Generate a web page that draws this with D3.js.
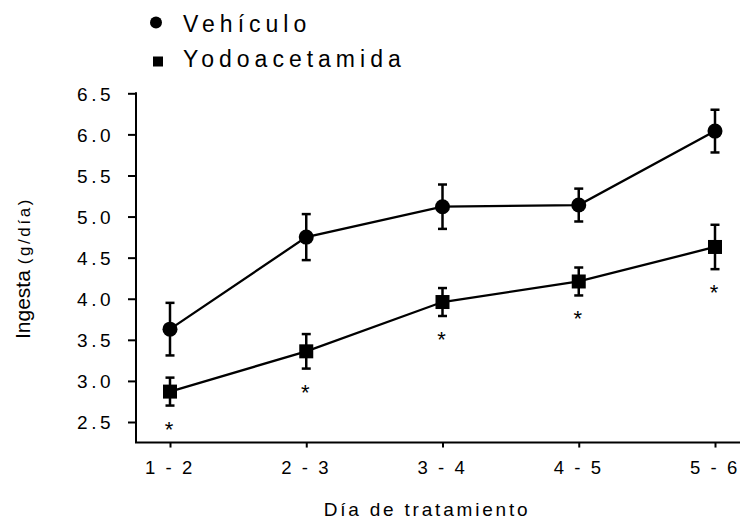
<!DOCTYPE html>
<html>

<head>
    <meta charset="utf-8">
    <style>
        body {
            margin: 0;
            background: #fff;
        }

        text {
            font-family: "Liberation Sans", Arial, sans-serif;
            fill: #000;
        }
    </style>
    <script src="https://d3js.org/d3.v7.min.js"></script>
</head>

<body>
    <svg width="740" height="519"></svg>
    <script>
        // datos
        var categories = ["1 - 2", "2 - 3", "3 - 4", "4 - 5", "5 - 6"];
        var vehiculo = [3.63, 4.75, 5.12, 5.14, 6.04];
        var vehiculoSE = [0.32, 0.28, 0.27, 0.20, 0.26];
        var yodo = [2.87, 3.36, 3.96, 4.21, 4.63];
        var yodoSE = [0.17, 0.21, 0.17, 0.17, 0.27];
        var yTicks = [2.5, 3.0, 3.5, 4.0, 4.5, 5.0, 5.5, 6.0, 6.5];
        var seriesNames = ["Vehículo", "Yodoacetamida"];

        var svg = d3.select("svg");

        var x = d3.scalePoint()
            .domain(categories)
            .range([170, 715]);

        var y = d3.scaleLinear()
            .domain([2.5, 6.5])
            .range([422, 93.3]);

        var axisLeftX = 136,
            axisBottomY = y(2.25);

        // eje y
        var yAxis = svg.append("g")
            .attr("transform", "translate(" + axisLeftX + ",0)")
            .call(d3.axisLeft(y)
                .tickValues(yTicks)
                .tickFormat(d3.format(".1f"))
                .tickSize(8)
                .tickPadding(14)
                .tickSizeOuter(0));
        yAxis.select(".domain").remove();
        yAxis.selectAll(".tick line").attr("stroke", "#000").attr("stroke-width", 2);
        yAxis.selectAll(".tick text")
            .attr("dy", "0.36em")
            .style("font-family", "'Liberation Sans', Arial, sans-serif")
            .style("font-size", "19px")
            .style("letter-spacing", "3.5px");
        yAxis.append("line")
            .attr("x1", 0).attr("x2", 0)
            .attr("y1", y(6.5) - 1).attr("y2", axisBottomY)
            .attr("stroke", "#000").attr("stroke-width", 2);

        // eje x
        var xAxis = svg.append("g")
            .attr("transform", "translate(0," + axisBottomY + ")")
            .call(d3.axisBottom(x).tickSize(5).tickPadding(13).tickSizeOuter(0));
        xAxis.select(".domain").remove();
        xAxis.selectAll(".tick line").attr("stroke", "#000").attr("stroke-width", 2);
        xAxis.selectAll(".tick text")
            .attr("dx", "-0.5px")
            .style("font-family", "'Liberation Sans', Arial, sans-serif")
            .style("font-size", "18.5px")
            .style("letter-spacing", "2.6px");
        xAxis.append("line")
            .attr("x1", axisLeftX - 1).attr("x2", 740)
            .attr("y1", 0).attr("y2", 0)
            .attr("stroke", "#000").attr("stroke-width", 2);

        // titulos
        svg.append("text")
            .attr("x", 427)
            .attr("y", 516)
            .attr("text-anchor", "middle")
            .style("font-size", "19px")
            .style("letter-spacing", "2.8px")
            .text("Día de tratamiento");

        var ylab = svg.append("text")
            .attr("text-anchor", "start")
            .attr("transform", "translate(30,339) rotate(-90)");
        ylab.append("tspan")
            .style("font-size", "21px")
            .text("Ingesta ");
        ylab.append("tspan")
            .style("font-size", "17px")
            .style("letter-spacing", "2.6px")
            .text("(g/día)");

        // series
        var series = [
            { name: seriesNames[0], mean: vehiculo, se: vehiculoSE, shape: "circle" },
            { name: seriesNames[1], mean: yodo, se: yodoSE, shape: "square" }
        ];

        var line = d3.line()
            .x(function (d) { return x(d.cat); })
            .y(function (d) { return y(d.v); });

        series.forEach(function (s) {
            var pts = categories.map(function (c, i) {
                return { cat: c, v: s.mean[i], se: s.se[i] };
            });

            svg.append("path")
                .datum(pts)
                .attr("fill", "none")
                .attr("stroke", "#000")
                .attr("stroke-width", 2.3)
                .attr("d", line);

            var g = svg.append("g");
            var eb = g.selectAll(".eb")
                .data(pts)
                .enter().append("g");
            eb.append("line")
                .attr("x1", function (d) { return x(d.cat); })
                .attr("x2", function (d) { return x(d.cat); })
                .attr("y1", function (d) { return y(d.v + d.se); })
                .attr("y2", function (d) { return y(d.v - d.se); })
                .attr("stroke", "#000").attr("stroke-width", 2.5);
            [1, -1].forEach(function (sign) {
                eb.append("line")
                    .attr("x1", function (d) { return x(d.cat) - 4.5; })
                    .attr("x2", function (d) { return x(d.cat) + 4.5; })
                    .attr("y1", function (d) { return y(d.v + sign * d.se); })
                    .attr("y2", function (d) { return y(d.v + sign * d.se); })
                    .attr("stroke", "#000").attr("stroke-width", 2.5);
            });

            if (s.shape == "circle") {
                g.selectAll("circle")
                    .data(pts)
                    .enter().append("circle")
                    .attr("cx", function (d) { return x(d.cat); })
                    .attr("cy", function (d) { return y(d.v); })
                    .attr("r", 7.5)
                    .attr("fill", "#000");
            } else {
                g.selectAll("rect")
                    .data(pts)
                    .enter().append("rect")
                    .attr("x", function (d) { return x(d.cat) - 7; })
                    .attr("y", function (d) { return y(d.v) - 7; })
                    .attr("width", 14)
                    .attr("height", 14)
                    .attr("fill", "#000");

                // asteriscos de significancia
                g.selectAll(".star")
                    .data(pts)
                    .enter().append("text")
                    .attr("x", function (d) { return x(d.cat) - 1; })
                    .attr("y", function (d) { return y(d.v - d.se) + 31; })
                    .attr("text-anchor", "middle")
                    .style("font-size", "22px")
                    .text("*");
            }
        });

        // leyenda
        var legend = svg.append("g");
        legend.append("circle")
            .attr("cx", 156).attr("cy", 22.5).attr("r", 6)
            .attr("fill", "#000");
        legend.append("rect")
            .attr("x", 153).attr("y", 56.5).attr("width", 10).attr("height", 10)
            .attr("fill", "#000");
        legend.selectAll("text")
            .data(seriesNames)
            .enter().append("text")
            .attr("x", 183)
            .attr("y", function (d, i) { return 32 + i * 35; })
            .style("font-size", "23px")
            .style("letter-spacing", "5px")
            .text(function (d) { return d; });
    </script>
</body>

</html>
